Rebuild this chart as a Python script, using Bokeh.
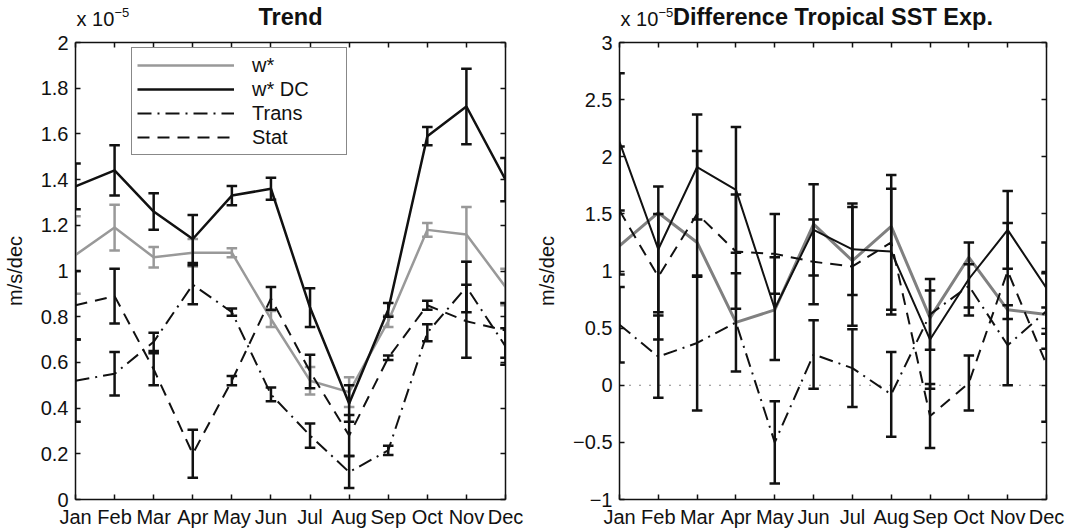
from bokeh.plotting import figure
from bokeh.layouts import row, column
from bokeh.models import (Range1d, FixedTicker, LinearAxis, Label, Legend,
                          LegendItem, Span, CustomJSTickFormatter)
from bokeh.embed import file_html
from bokeh.resources import INLINE

# ---------------------------------------------------------------- data
# all values in units of 1e-5 m/s/dec
months = ["Jan", "Feb", "Mar", "Apr", "May", "Jun",
          "Jul", "Aug", "Sep", "Oct", "Nov", "Dec"]
month_pos = list(range(1, 13))

# Trend
trend_wstar = [1.07, 1.19, 1.06, 1.08, 1.08, 0.79, 0.52, 0.47, 0.78, 1.18, 1.16, 0.93]
trend_wstar_err = [0.17, 0.10, 0.045, 0.06, 0.02, 0.035, 0.06, 0.065, 0.025, 0.03, 0.12, 0.08]
trend_dc = [1.37, 1.44, 1.26, 1.14, 1.33, 1.36, 0.84, 0.42, 0.83, 1.59, 1.72, 1.40]
trend_dc_err = [0.10, 0.11, 0.08, 0.105, 0.042, 0.048, 0.085, 0.08, 0.03, 0.04, 0.165, 0.095]
trend_trans = [0.52, 0.55, 0.69, 0.94, 0.82, 0.46, 0.28, 0.12, 0.215, 0.73, 0.93, 0.67]
trend_trans_err = [0.18, 0.095, 0.04, 0.085, 0.016, 0.03, 0.053, 0.07, 0.02, 0.037, 0.11, 0.08]
trend_stat = [0.85, 0.89, 0.57, 0.20, 0.52, 0.88, 0.56, 0.28, 0.62, 0.85, 0.78, 0.74]
trend_stat_err = [0.15, 0.12, 0.07, 0.105, 0.02, 0.05, 0.073, 0.09, 0.01, 0.02, 0.16, 0.12]

# Difference Tropical SST Exp.
sst_wstar = [1.22, 1.51, 1.25, 0.55, 0.66, 1.41, 1.09, 1.39, 0.59, 1.12, 0.66, 0.62]
sst_dc = [2.13, 1.19, 1.91, 1.71, 0.67, 1.36, 1.19, 1.17, 0.40, 0.93, 1.36, 0.85]
sst_dc_err = [0.60, 0.55, 0.46, 0.55, 0.45, 0.40, 0.40, 0.55, 0.43, 0.32, 0.34, 0.40]
sst_trans = [0.53, 0.25, 0.37, 0.55, -0.50, 0.27, 0.15, -0.08, 0.62, 0.87, 0.35, 0.65]
sst_trans_err = [0.33, 0.36, 0.59, 0.43, 0.36, 0.30, 0.34, 0.37, 0.31, 0.19, 0.35, 0.33]
sst_stat = [1.53, 0.95, 1.50, 1.17, 1.15, 1.08, 1.04, 1.25, -0.27, 0.02, 1.00, 0.18]
sst_stat_err = [0.56, 0.55, 0.55, 0.50, 0.35, 0.37, 0.52, 0.59, 0.28, 0.24, 0.42, 0.50]

trend_yticks = [0, 0.2, 0.4, 0.6, 0.8, 1.0, 1.2, 1.4, 1.6, 1.8, 2.0]
sst_yticks = [-1, -0.5, 0, 0.5, 1.0, 1.5, 2.0, 2.5, 3.0]

# ---------------------------------------------------------------- style
FONT = "Liberation Sans"
BLACK = "#111111"
DASH = "12 8"
DASHDOT = "14 6 2 6"
CAP = 0.135          # half width of error bar caps, in months
PANEL_W = 533
HEADER_H = 30
MAIN_H = 530 - HEADER_H
FRAME_W = 433

ytick_fmt = CustomJSTickFormatter(code="""
    const v = Math.round(tick * 10) / 10;
    return (v < 0 ? '\\u2212' : '') + Math.abs(v).toString();
""")


def header_text(h, x, x_offset, y_center, text, size, bold=False, align="left"):
    h.add_layout(Label(x=x, x_offset=x_offset, y=HEADER_H - y_center, text=text,
                       text_align=align, text_baseline="middle",
                       text_font=FONT, text_font_size=size,
                       text_font_style="bold" if bold else "normal",
                       text_color=BLACK))


def make_header(border_left, title_text):
    """Strip above a panel holding its title and the 10^-5 multiplier.
    Its frame lines up with the panel frame below, so x is in months and y in
    pixels counted up from the strip's bottom edge."""
    h = figure(width=PANEL_W, height=HEADER_H, x_range=Range1d(1, 12),
               y_range=Range1d(0, HEADER_H), output_backend="svg", toolbar_location=None,
               title=None, min_border=0, min_border_left=border_left,
               min_border_right=PANEL_W - FRAME_W - border_left,
               x_axis_location=None, y_axis_location=None)
    h.xgrid.visible = False
    h.ygrid.visible = False
    h.outline_line_color = None
    # (y given as the distance of the text's middle from the top of the page)
    header_text(h, 6.5, 0, 16.9, title_text, "23.5px", bold=True, align="center")
    header_text(h, 1, 1, 18.6, "x 10", "20px")
    header_text(h, 1, 39, 11.5, "\u22125", "13px")
    return h


def make_panel(y0, y1, yticks, border_left):
    p = figure(width=PANEL_W, height=MAIN_H, x_range=Range1d(1, 12), y_range=Range1d(y0, y1),
               output_backend="svg", toolbar_location=None, title=None,
               min_border_left=border_left, min_border_right=PANEL_W - FRAME_W - border_left,
               min_border_top=42 - HEADER_H, min_border_bottom=31)
    p.xgrid.visible = False
    p.ygrid.visible = False
    p.outline_line_color = None

    def style(ax, ticker, labels=True):
        ax.ticker = ticker
        ax.axis_line_color = BLACK
        ax.axis_line_width = 1.5
        ax.major_tick_line_color = BLACK
        ax.major_tick_line_width = 1.5
        ax.major_tick_in = 5
        ax.major_tick_out = 0
        ax.minor_tick_line_color = None
        ax.major_label_text_font = FONT
        if labels:
            ax.major_label_text_font_size = "20px"
            ax.major_label_text_color = BLACK
        else:
            ax.major_label_text_font_size = "0px"
            ax.major_label_text_color = None
            ax.major_label_standoff = 0

    xa = p.xaxis[0]
    style(xa, FixedTicker(ticks=month_pos))
    xa.major_label_overrides = {i: m for i, m in zip(month_pos, months)}
    xa.major_label_standoff = 6

    ya = p.yaxis[0]
    style(ya, FixedTicker(ticks=yticks))
    ya.formatter = ytick_fmt
    ya.major_label_standoff = 7
    ya.axis_label = "m/s/dec"
    ya.axis_label_text_font = FONT
    ya.axis_label_text_font_size = "20px"
    ya.axis_label_text_font_style = "normal"
    ya.axis_label_text_color = BLACK
    ya.axis_label_standoff = 12

    top = LinearAxis()
    style(top, FixedTicker(ticks=month_pos), labels=False)
    p.add_layout(top, "above")
    right = LinearAxis()
    style(right, FixedTicker(ticks=yticks), labels=False)
    p.add_layout(right, "right")
    return p


def errorbars(p, vals, errs, color, width):
    lo = [v - e for v, e in zip(vals, errs)]
    hi = [v + e for v, e in zip(vals, errs)]
    left = [x - CAP for x in month_pos]
    rightx = [x + CAP for x in month_pos]
    p.segment(x0=month_pos, y0=lo, x1=month_pos, y1=hi, line_color=color, line_width=width)
    p.segment(x0=left, y0=lo, x1=rightx, y1=lo, line_color=color, line_width=width)
    p.segment(x0=left, y0=hi, x1=rightx, y1=hi, line_color=color, line_width=width)


# ---------------------------------------------------------------- Trend panel
h1 = make_header(72, "Trend")
p1 = make_panel(0, 2, trend_yticks, 72)

GRAY1 = "#999999"
r_w = p1.line(month_pos, trend_wstar, line_color=GRAY1, line_width=2.5)
errorbars(p1, trend_wstar, trend_wstar_err, GRAY1, 2.5)
r_dc = p1.line(month_pos, trend_dc, line_color=BLACK, line_width=2.5)
errorbars(p1, trend_dc, trend_dc_err, BLACK, 2.5)
r_tr = p1.line(month_pos, trend_trans, line_color=BLACK, line_width=2, line_dash=DASHDOT)
errorbars(p1, trend_trans, trend_trans_err, BLACK, 2.5)
r_st = p1.line(month_pos, trend_stat, line_color=BLACK, line_width=2, line_dash=DASH)
errorbars(p1, trend_stat, trend_stat_err, BLACK, 2.5)

legend = Legend(items=[LegendItem(label="w*", renderers=[r_w]),
                       LegendItem(label="w* DC", renderers=[r_dc]),
                       LegendItem(label="Trans", renderers=[r_tr]),
                       LegendItem(label="Stat", renderers=[r_st])],
                location=(56, 344), padding=5, spacing=0, margin=0,
                glyph_width=97, glyph_height=24, label_height=24, label_width=89,
                label_standoff=18, label_text_font=FONT, label_text_font_size="20px",
                label_text_color=BLACK, border_line_color=BLACK, border_line_width=1.5,
                background_fill_color="white", background_fill_alpha=1.0)
p1.add_layout(legend)

# ---------------------------------------------------------------- SST difference panel
h2 = make_header(80, "Difference Tropical SST Exp.")
p2 = make_panel(-1, 3, sst_yticks, 80)
p2.add_layout(Span(location=0, dimension="width", line_color=BLACK,
                   line_width=1, line_dash="1 9"))

GRAY2 = "#808080"
p2.line(month_pos, sst_wstar, line_color=GRAY2, line_width=3)
p2.line(month_pos, sst_dc, line_color=BLACK, line_width=2)
errorbars(p2, sst_dc, sst_dc_err, BLACK, 2.5)
p2.line(month_pos, sst_trans, line_color=BLACK, line_width=2, line_dash=DASHDOT)
errorbars(p2, sst_trans, sst_trans_err, BLACK, 2.5)
p2.line(month_pos, sst_stat, line_color=BLACK, line_width=2, line_dash=DASH)
errorbars(p2, sst_stat, sst_stat_err, BLACK, 2.5)

layout = row(column(h1, p1), column(h2, p2))
open("out.html", "w").write(file_html(layout, INLINE))
